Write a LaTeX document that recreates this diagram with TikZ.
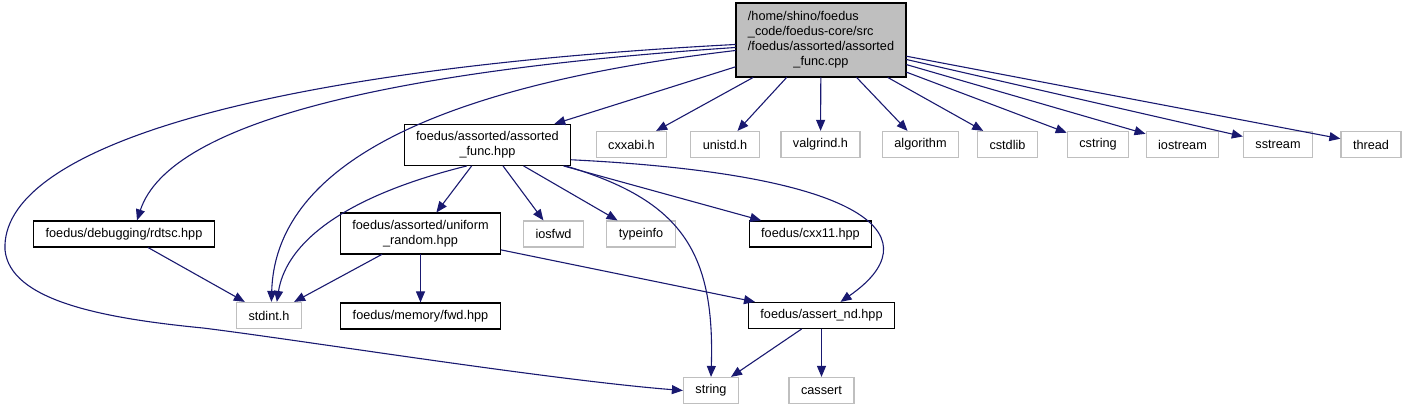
\documentclass[tikz,border=0pt]{standalone}
\usepackage{fontspec}
\setmainfont{Liberation Sans}
\usetikzlibrary{arrows.meta}
\definecolor{edgeblue}{RGB}{25,25,112}
\definecolor{boxgray}{RGB}{191,191,191}
\definecolor{rootfill}{RGB}{191,191,191}

\begin{document}
\begin{tikzpicture}[x=1pt,y=-1pt,>={Triangle[length=11pt,width=9pt]},line cap=round,
 every node/.style={font=\fontsize{12.7}{15}\selectfont,inner xsep=12pt,inner ysep=7pt,minimum height=26pt},
 doc/.style={draw=black,line width=1.2pt,align=center},
 sys/.style={draw=boxgray,line width=1.2pt},
 dep/.style={->,edgeblue,line width=1.1pt}]
 \useasboundingbox (0,0) rectangle (1406,409);
 % file of the graph
 \node[doc,fill=rootfill] (root) at (821,40) {\begin{tabular}{@{}l@{}}/home/shino/foedus\\ \_code/foedus-core/src\\ /foedus/assorted/assorted\\ \multicolumn{1}{@{}c@{}}{\_func.cpp}\end{tabular}};
 % first row
 \node[doc] (funchpp) at (487.5,145) {foedus/assorted/assorted\\\_func.hpp};
 \node[sys] (cxxabi) at (631.5,144.5) {cxxabi.h};
 \node[sys] (unistd) at (725,144.5) {unistd.h};
 \node[sys] (valgrind) at (820.5,144.5) {valgrind.h};
 \node[sys] (algorithm) at (920.5,144.5) {algorithm};
 \node[sys] (cstdlib) at (1007.5,144.5) {cstdlib};
 \node[sys] (cstring) at (1098,144.5) {cstring};
 \node[sys] (iostream) at (1182.5,144.5) {iostream};
 \node[sys] (sstream) at (1278,144.5) {sstream};
 \node[sys] (thread) at (1371,144.5) {thread};
 % second row
 \node[doc] (rdtsc) at (124,234) {foedus/debugging/rdtsc.hpp};
 \node[doc] (unirand) at (420.5,233.5) {foedus/assorted/uniform\\\_random.hpp};
 \node[sys] (iosfwd) at (553.5,234) {iosfwd};
 \node[sys] (typeinfo) at (641,234) {typeinfo};
 \node[doc] (cxxeleven) at (810.5,234) {foedus/cxx11.hpp};
 % third row
 \node[sys] (stdint) at (269,315.5) {stdint.h};
 \node[doc] (fwdhpp) at (420.5,316) {foedus/memory/fwd.hpp};
 \node[doc] (assertnd) at (821.5,315.5) {foedus/assert\_nd.hpp};
 % last row
 \node[sys] (string) at (711,390.5) {string};
 \node[sys] (cassert) at (821.5,390.5) {cassert};

 \foreach \t in {funchpp,cxxabi,unistd,valgrind,algorithm,cstdlib,cstring,iostream,sstream,thread}
  \draw[dep] (root) -- (\t);
 \draw[dep] (root.183) .. controls (250,70) and (0,150) .. (5,250) .. controls (10,300) and (100,318) .. (203,328) .. controls (300,340) and (550,380) .. (string.west);
 \draw[dep] (root.185) .. controls (400,70) and (170,120) .. ([xshift=13pt]rdtsc.north);
 \draw[dep] (root.187) .. controls (400,90) and (275,180) .. (stdint.80);
 \foreach \t in {unirand,iosfwd,typeinfo,cxxeleven}
  \draw[dep] (funchpp) -- (\t);
 \draw[dep] (funchpp.-135) .. controls (330,200) and (285,250) .. (stdint.60);
 \draw[dep] (funchpp.-15) .. controls (680,200) and (715,250) .. (string.north);
 \draw[dep] (funchpp.-10) .. controls (880,175) and (930,240) .. ([xshift=19pt]assertnd.north);
 \draw[dep] (rdtsc) -- (stdint);
 \foreach \t in {stdint,fwdhpp,assertnd}
  \draw[dep] (unirand) -- (\t);
 \draw[dep] (assertnd) -- (string);
 \draw[dep] (assertnd) -- (cassert);
\end{tikzpicture}
\end{document}
